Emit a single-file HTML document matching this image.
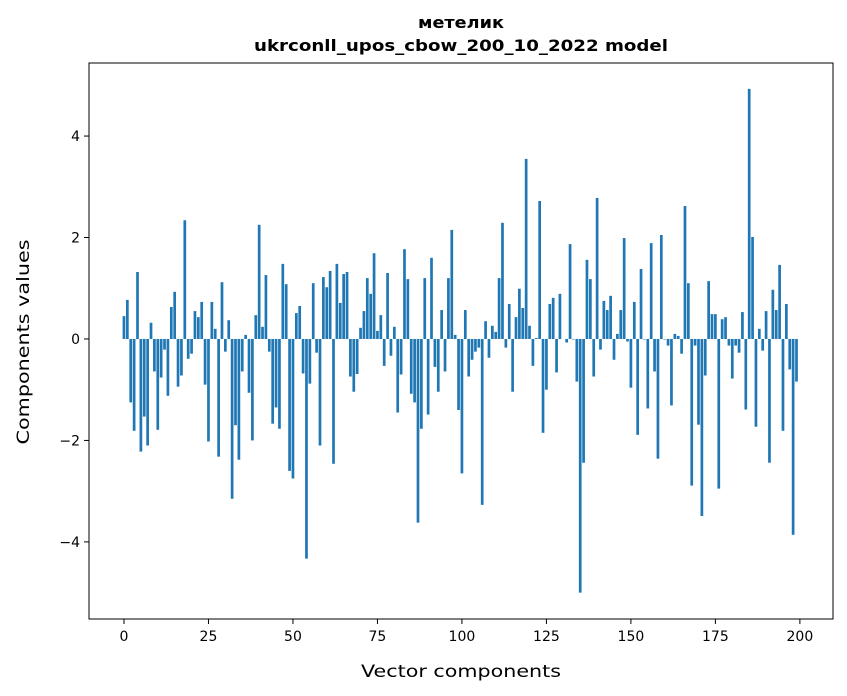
<!DOCTYPE html>
<html><head><meta charset="utf-8"><style>
body{margin:0;background:#fff;}
svg{display:block;font-family:"DejaVu Sans","Liberation Sans",sans-serif;}
</style></head><body>
<svg id="chart" width="847" height="696" viewBox="0 0 847 696" xmlns="http://www.w3.org/2000/svg">
<rect x="0" y="0" width="847" height="696" fill="#fff"/>
<text x="461" y="28" text-anchor="middle" font-size="16" font-weight="bold" textLength="86" lengthAdjust="spacingAndGlyphs">метелик</text>
<text x="461" y="51" text-anchor="middle" font-size="16" font-weight="bold" textLength="414" lengthAdjust="spacingAndGlyphs">ukrconll_upos_cbow_200_10_2022 model</text>
<g id="bars"></g>
<rect x="89" y="63" width="744" height="556" fill="none" stroke="#000" stroke-width="1"/>
<g id="xaxis"></g>
<g id="yaxis"></g>
<text x="461" y="677" text-anchor="middle" font-size="17" textLength="200" lengthAdjust="spacingAndGlyphs">Vector components</text>
<text x="0" y="0" transform="translate(29,342) rotate(-90)" text-anchor="middle" font-size="17" textLength="205" lengthAdjust="spacingAndGlyphs">Components values</text>
</svg>
<script>
const values = [0.45,0.77,-1.25,-1.81,1.32,-2.22,-1.53,-2.1,0.32,-0.64,
-1.79,-0.76,-0.21,-1.12,0.63,0.93,-0.94,-0.72,2.34,-0.39,
-0.29,0.55,0.43,0.73,-0.9,-2.02,0.73,0.2,-2.32,1.12,
-0.25,0.37,-3.15,-1.7,-2.38,-0.64,0.08,-1.06,-2.0,0.47,
2.25,0.24,1.26,-0.25,-1.67,-1.35,-1.77,1.48,1.08,-2.6,
-2.75,0.51,0.65,-0.68,-4.33,-0.88,1.1,-0.27,-2.1,1.22,
1.02,1.34,-2.46,1.48,0.71,1.28,1.32,-0.74,-1.04,-0.69,
0.22,0.55,1.2,0.89,1.69,0.16,0.47,-0.53,1.3,-0.33,
0.24,-1.45,-0.7,1.77,1.18,-1.08,-1.25,-3.62,-1.77,1.2,
-1.49,1.6,-0.55,-1.04,0.57,-0.64,1.2,2.15,0.08,-1.4,
-2.65,0.57,-0.74,-0.41,-0.25,-0.17,-3.27,0.35,-0.37,0.26,
0.14,1.2,2.29,-0.17,0.69,-1.04,0.43,0.99,0.61,3.55,
0.26,-0.53,0.02,2.72,-1.85,-1.0,0.69,0.81,-0.66,0.89,
0.0,-0.07,1.87,-0.01,-0.84,-5.0,-2.44,1.56,1.18,-0.74,
2.78,-0.21,0.75,0.57,0.85,-0.41,0.1,0.57,1.99,-0.05,
-0.96,0.73,-1.89,1.38,-0.01,-1.37,1.89,-0.64,-2.36,2.05,
-0.01,-0.13,-1.31,0.1,0.06,-0.29,2.62,1.1,-2.89,-0.13,
-1.69,-3.49,-0.72,1.14,0.49,0.49,-2.95,0.39,0.43,-0.13,
-0.78,-0.13,-0.27,0.53,-1.39,4.93,2.01,-1.73,0.2,-0.23,
0.55,-2.44,0.97,0.57,1.46,-1.81,0.69,-0.6,-3.86,-0.84];
const xTicks = [0,25,50,75,100,125,150,175,200];
const yTicks = [-4,-2,0,2,4];
const yTickLabels = ["\u22124","\u22122","0","2","4"];

const NS="http://www.w3.org/2000/svg";
const X0=89,X1=833,Y0=63,Y1=619;
const xmin=-10.35,xmax=209.8,ymin=-5.52,ymax=5.44;
function xs(v){return X0+(v-xmin)/(xmax-xmin)*(X1-X0);}
function ys(v){return Y1-(v-ymin)/(ymax-ymin)*(Y1-Y0);}
const bars=document.getElementById('bars');
values.forEach((v,i)=>{
  const r=document.createElementNS(NS,'rect');
  const xl=xs(i-0.4), xr=xs(i+0.4);
  const y=Math.min(ys(v),ys(0)), h=Math.abs(ys(v)-ys(0));
  r.setAttribute('x',xl);r.setAttribute('y',y);
  r.setAttribute('width',xr-xl);r.setAttribute('height',h);
  r.setAttribute('fill','#1f77b4');
  
  
  bars.appendChild(r);
});
const xa=document.getElementById('xaxis');
xTicks.forEach(t=>{
  const l=document.createElementNS(NS,'line');
  l.setAttribute('x1',xs(t));l.setAttribute('x2',xs(t));
  l.setAttribute('y1',Y1);l.setAttribute('y2',Y1+5);l.setAttribute('stroke','#000');
  
  
  xa.appendChild(l);
  const tx=document.createElementNS(NS,'text');
  tx.setAttribute('x',xs(t));tx.setAttribute('y',Y1+22);
  tx.setAttribute('text-anchor','middle');tx.setAttribute('font-size','14');
  tx.textContent=String(t);
  
  
  xa.appendChild(tx);
});
const ya=document.getElementById('yaxis');
yTicks.forEach((t,k)=>{
  const l=document.createElementNS(NS,'line');
  l.setAttribute('x1',X0-5);l.setAttribute('x2',X0);
  l.setAttribute('y1',ys(t));l.setAttribute('y2',ys(t));l.setAttribute('stroke','#000');
  
  
  ya.appendChild(l);
  const tx=document.createElementNS(NS,'text');
  tx.setAttribute('x',X0-9);tx.setAttribute('y',ys(t)+5);
  tx.setAttribute('text-anchor','end');tx.setAttribute('font-size','14');
  tx.textContent=yTickLabels[k];
  
  
  ya.appendChild(tx);
});
</script>
</body></html>
